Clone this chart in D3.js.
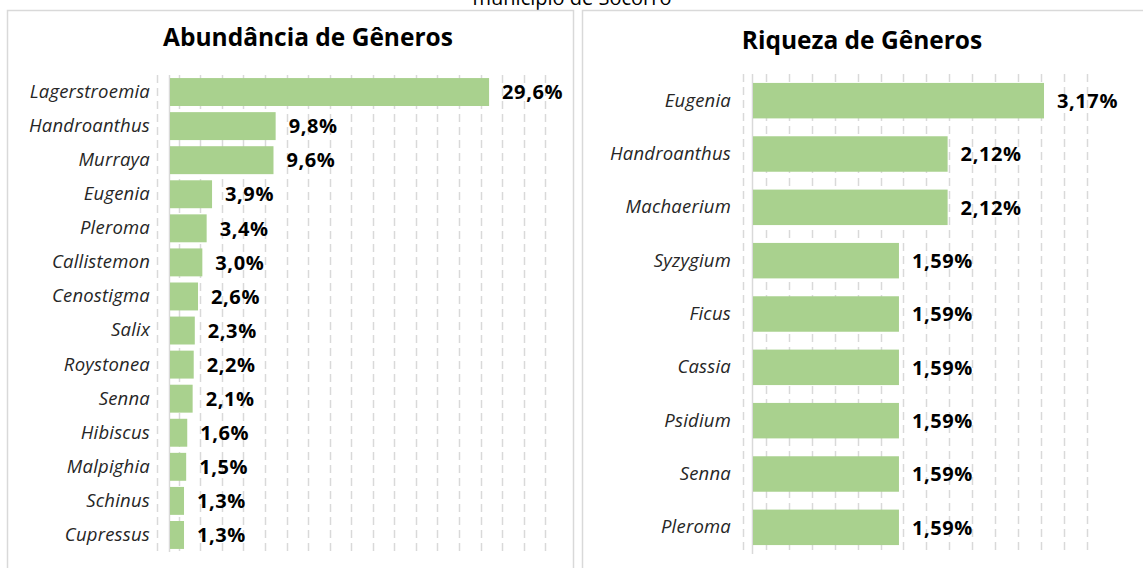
<!DOCTYPE html>
<html lang="pt">
<head>
    <meta charset="UTF-8">
    <title>Abundância e Riqueza de Gêneros</title>
    <script src="https://d3js.org/d3.v7.min.js"></script>
    <style>
        body { margin: 0; background: #fff; }
        svg { display: block; font-family: "Open Sans", sans-serif; }
    </style>
</head>
<body>
    <div id="plot"></div>

    <script>
        // data
        const abundGenera = ['Lagerstroemia', 'Handroanthus', 'Murraya', 'Eugenia', 'Pleroma', 'Callistemon',
            'Cenostigma', 'Salix', 'Roystonea', 'Senna', 'Hibiscus', 'Malpighia', 'Schinus', 'Cupressus'];
        const abundValues = [29.6, 9.8, 9.6, 3.9, 3.4, 3.0, 2.6, 2.3, 2.2, 2.1, 1.6, 1.5, 1.3, 1.3];

        const richGenera = ['Eugenia', 'Handroanthus', 'Machaerium', 'Syzygium', 'Ficus', 'Cassia',
            'Psidium', 'Senna', 'Pleroma'];
        const richValues = [3.17, 2.12, 2.12, 1.59, 1.59, 1.59, 1.59, 1.59, 1.59];

        const pageTitle = 'município de Socorro';
        const abundTitle = 'Abundância de Gêneros';
        const richTitle = 'Riqueza de Gêneros';

        const width = 1143;
        const height = 568;
        const barColor = '#a9d18e';
        const gridColor = '#d9d9d9';

        const ptBR = d3.formatLocale({ decimal: ',', thousands: '.', grouping: [3], currency: ['R$', ''] });

        const svg = d3.select('#plot')
            .append('svg')
            .attr('width', width)
            .attr('height', height);

        // top title, mostly cut off by the page edge (as in the original)
        svg.append('text')
            .attr('x', 572)
            .attr('y', 5)
            .attr('text-anchor', 'middle')
            .attr('font-size', 20)
            .attr('fill', '#000')
            .text(pageTitle);

        // panel frames
        svg.append('rect')
            .attr('x', 7.5).attr('y', 10.5)
            .attr('width', 566).attr('height', 570)
            .attr('fill', 'none').attr('stroke', gridColor).attr('stroke-width', 1.5);
        svg.append('rect')
            .attr('x', 582.5).attr('y', 10.5)
            .attr('width', 600).attr('height', 570)
            .attr('fill', 'none').attr('stroke', gridColor).attr('stroke-width', 1.5);

        function drawChart(opts) {
            const g = svg.append('g');

            const xScale = d3.scaleLinear()
                .domain(opts.xDomain)
                .range(opts.xRange);

            const yScale = d3.scaleBand()
                .domain(opts.categories)
                .range(opts.yRange)
                .paddingInner(opts.pad)
                .paddingOuter(opts.pad / 2);

            // dashed gridlines
            g.selectAll('line.grid')
                .data(opts.grid)
                .join('line')
                .attr('class', 'grid')
                .attr('x1', d => Math.round(xScale(d)) + 0.5)
                .attr('x2', d => Math.round(xScale(d)) + 0.5)
                .attr('y1', opts.yRange[0])
                .attr('y2', opts.yRange[1])
                .attr('stroke', gridColor)
                .attr('stroke-width', 1.5)
                .attr('stroke-dasharray', '8,5');

            // category axis line
            g.append('line')
                .attr('x1', Math.round(xScale(0)) + 0.5)
                .attr('x2', Math.round(xScale(0)) + 0.5)
                .attr('y1', opts.yRange[0])
                .attr('y2', opts.yRange[1])
                .attr('stroke', gridColor)
                .attr('stroke-width', 1.5);

            // category labels
            const yAxis = d3.axisLeft(yScale).tickSize(0).tickPadding(0);
            const ax = g.append('g')
                .attr('transform', `translate(${opts.labelX},0)`)
                .call(yAxis);
            ax.select('.domain').remove();
            ax.selectAll('text')
                .attr('font-family', '"Open Sans", sans-serif')
                .attr('font-style', 'italic')
                .attr('font-size', 18.5)
                .attr('letter-spacing', 0.2)
                .attr('fill', '#262626');

            // bars
            g.selectAll('rect.bar')
                .data(opts.values)
                .join('rect')
                .attr('class', 'bar')
                .attr('x', xScale(0) + 1)
                .attr('y', (d, i) => yScale(opts.categories[i]))
                .attr('width', d => xScale(d) - xScale(0))
                .attr('height', yScale.bandwidth())
                .attr('fill', barColor);

            // value labels
            g.selectAll('text.val')
                .data(opts.values)
                .join('text')
                .attr('class', 'val')
                .attr('x', d => xScale(d) + 14)
                .attr('y', (d, i) => yScale(opts.categories[i]) + yScale.bandwidth() / 2)
                .attr('dy', '0.36em')
                .attr('font-weight', 'bold')
                .attr('font-size', 20)
                .attr('letter-spacing', 0.6)
                .attr('fill', '#000')
                .text(d => opts.fmt(d) + '%');

            // chart title
            g.append('text')
                .attr('x', opts.titleX)
                .attr('y', opts.titleY)
                .attr('text-anchor', 'middle')
                .attr('font-weight', 'bold')
                .attr('font-size', 24.5)
                .attr('fill', '#000')
                .text(opts.title);
        }

        drawChart({
            categories: abundGenera,
            values: abundValues,
            xDomain: [0, 35],
            xRange: [169, 546.3],
            yRange: [75, 552],
            pad: 0.18,
            grid: d3.range(19).map(k => -1.1 + 2 * k),
            labelX: 150,
            fmt: ptBR.format('.1f'),
            title: abundTitle,
            titleX: 308,
            titleY: 46
        });

        drawChart({
            categories: richGenera,
            values: richValues,
            xDomain: [0, 4],
            xRange: [752, 1119.2],
            yRange: [74, 554],
            pad: 0.335,
            grid: d3.range(16).map(k => -0.1 + 0.25 * k),
            labelX: 731,
            fmt: ptBR.format('.2f'),
            title: richTitle,
            titleX: 862,
            titleY: 49
        });
    </script>
</body>
</html>
